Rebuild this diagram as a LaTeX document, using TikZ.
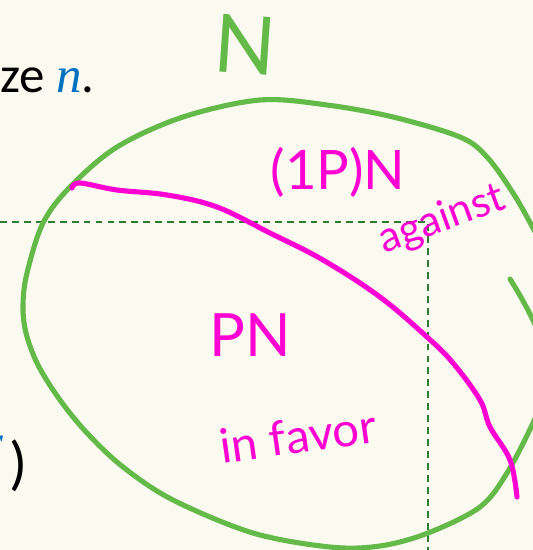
\documentclass[tikz,border=0pt]{standalone}
\usepackage{fontspec}
\setmainfont{Carlito}
\newfontfamily\handfont{Lato}
\newfontfamily\mathletter{Liberation Serif}
\definecolor{paper}{RGB}{250,250,240}
\definecolor{setgreen}{RGB}{100,186,72}
\definecolor{inkpink}{RGB}{255,0,210}
\definecolor{guidegreen}{RGB}{46,125,50}
\definecolor{mathblue}{RGB}{0,112,192}
\tikzset{
  setline/.style={draw=setgreen, line width=2.9pt, line cap=round, line join=round},
  splitline/.style={draw=inkpink, line width=2.9pt, line cap=round, line join=round},
  guideline/.style={draw=guidegreen, line width=1.1pt, dash pattern=on 3.9pt off 2.9pt},
  pinklabel/.style={text=inkpink, font=\handfont, inner sep=0pt},
}
\begin{document}
\begin{tikzpicture}[x=0.02cm, y=-0.02cm]
  \fill[paper] (0,0) rectangle (533,550);
  \useasboundingbox (0,0) rectangle (533,550);
  \clip (0,0) rectangle (533,550);

  % text cut from the slide behind the sketch
  \node[anchor=base west, inner sep=0pt, font=\fontsize{29}{34}\selectfont] (sizetext) at (0,93)
    {ze \textcolor{mathblue}{\mathletter\itshape n}.};
  \node[anchor=north east, inner sep=0pt, text=mathblue, font=\mathletter\itshape\fontsize{26}{30}\selectfont] (cutletter) at (4,436) {r};
  \node[inner sep=0pt, font=\fontsize{34}{40}\selectfont] (closeparen) at (19,466) {)};

  % guide lines
  \draw[guideline] (0,222) -- (428,222) -- (428,552);

  % population N
  \draw[setline] plot[smooth, tension=0.55] coordinates {
    (548,258) (533,228) (513,193) (487,157) (460,137) (393,117) (327,105)
    (260,100) (183,117) (117,147) (70,187) (43,223) (27,273) (23,305)
    (26,333) (38,365) (60,400) (87,433) (123,467) (173,500) (253,533)
    (330,547) (380,546) (428,533) (480,507) (507,473) (533,423) (545,392)};
  \draw[setline] (510,279) .. controls (520,295) and (530,312) .. (542,340);

  % split between the two groups
  \draw[splitline] plot[smooth, tension=0.6] coordinates {
    (72,188) (80,183) (117,190) (167,195) (217,207) (270,233) (323,260)
    (380,297) (427,337) (453,363) (480,400) (490,427) (510,460) (517,497)};

  % labels
  \node[text=setgreen, font=\handfont\fontsize{46}{50}\selectfont, inner sep=0pt, rotate=-4] (popN) at (245,45) {N};
  \node[pinklabel, font=\handfont\fontsize{31}{36}\selectfont] (againstN) at (338,172) {(1P)N};
  \node[pinklabel, font=\handfont\fontsize{24}{28}\selectfont, rotate=20] (against) at (442,220) {against};
  \node[pinklabel, font=\handfont\fontsize{34}{40}\selectfont] (favorN) at (250,335) {PN};
  \node[pinklabel, font=\handfont\fontsize{27}{32}\selectfont, rotate=8] (infavor) at (298,436) {in favor};
\end{tikzpicture}
\end{document}
